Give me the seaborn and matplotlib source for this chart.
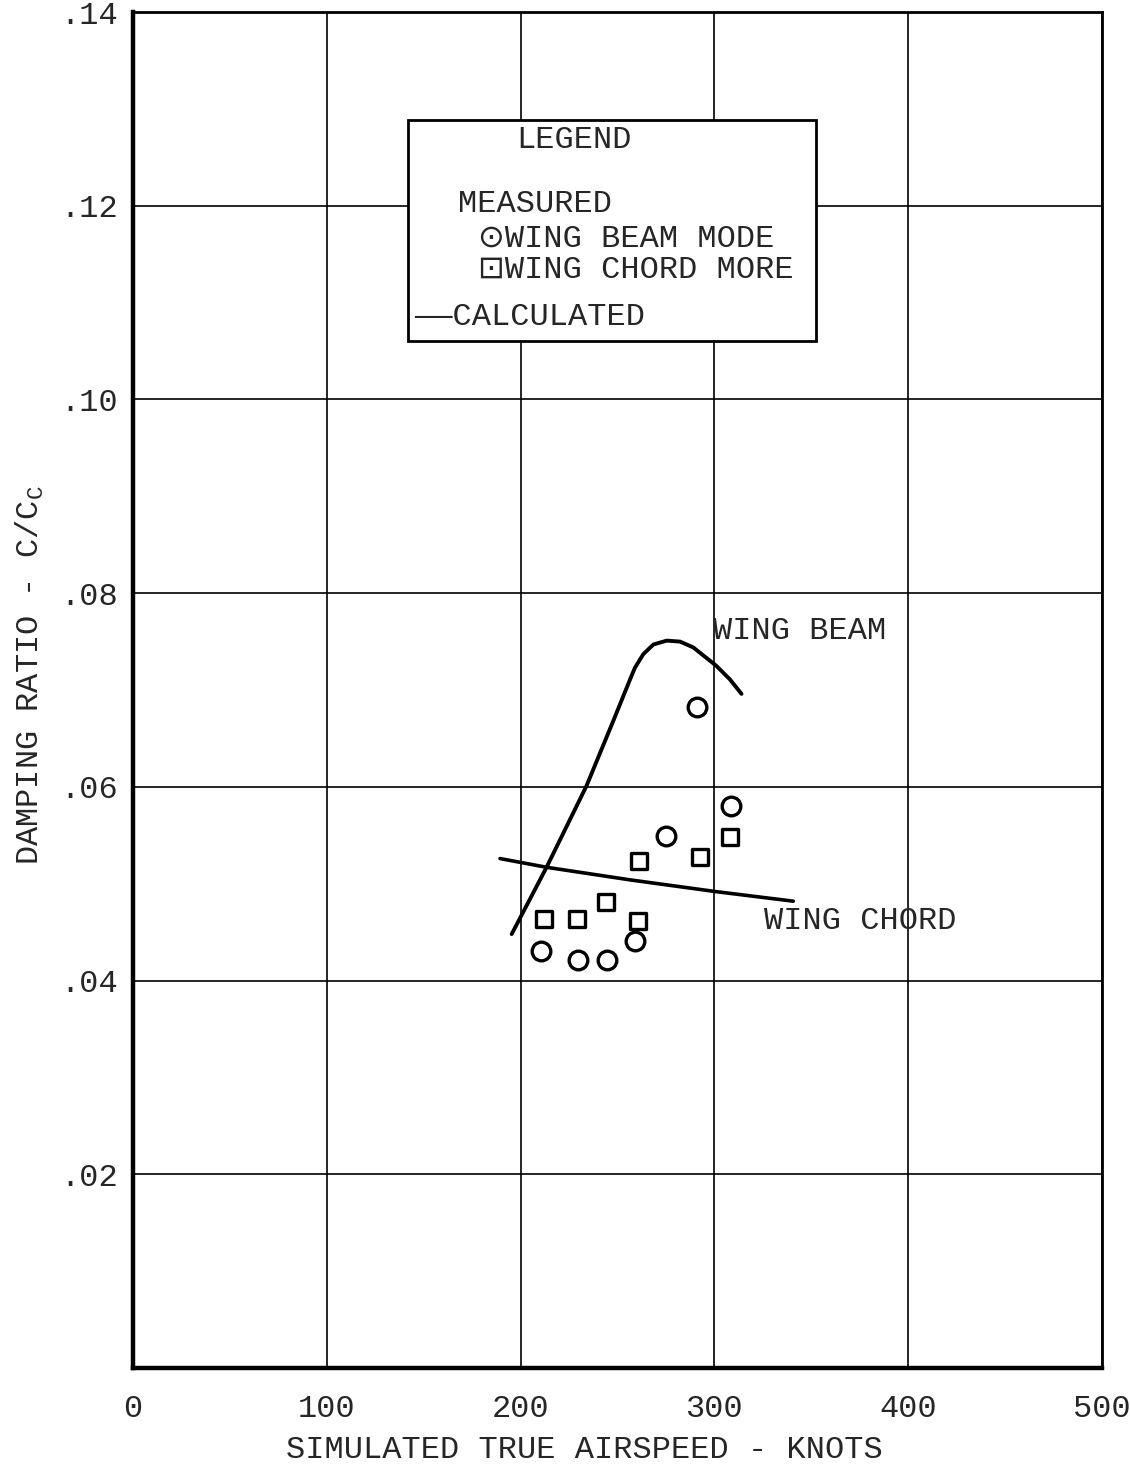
import numpy as np
import pandas as pd
import matplotlib
matplotlib.use("Agg")
import matplotlib.pyplot as plt
from matplotlib.patches import Rectangle
import seaborn as sns

# measured points
beam_speed = [210.5, 229.8, 244.6, 259.2, 275.0, 291.2, 308.4]
beam_damp = [0.0431, 0.0421, 0.0421, 0.0441, 0.0549, 0.0682, 0.0580]
chord_speed = [212.2, 228.9, 243.9, 260.8, 261.3, 292.6, 308.0]
chord_damp = [0.0464, 0.0464, 0.0481, 0.0462, 0.0524, 0.0528, 0.0548]

# calculated curves
beam_calc_speed = [195.4, 213.4, 234.0, 247.8, 256.5, 259.0, 263.3, 268.5, 275.4,
                   282.3, 289.1, 296.0, 301.0, 308.0, 314.0]
beam_calc_damp = [0.0448, 0.0517, 0.0601, 0.0668, 0.0711, 0.0723, 0.0737, 0.0747, 0.0751,
                  0.0750, 0.0744, 0.0733, 0.0725, 0.0711, 0.0696]
chord_calc_speed = [189.4, 213.4, 256.5, 300.3, 340.7]
chord_calc_damp = [0.0526, 0.0517, 0.0504, 0.0492, 0.0482]

x_ticks = [0, 100, 200, 300, 400, 500]
y_ticks = [0.0, 0.02, 0.04, 0.06, 0.08, 0.10, 0.12, 0.14]
y_ticklabels = ["", ".02", ".04", ".06", ".08", ".10", ".12", ".14"]

sns.set_style("white")
plt.rcParams["font.family"] = ["Liberation Mono", "DejaVu Sans"]
plt.rcParams["mathtext.fontset"] = "custom"
plt.rcParams["mathtext.rm"] = "Liberation Mono"

fig = plt.figure(figsize=(11.3, 14.68), dpi=100)
ax = fig.add_axes([0.1177, 0.0681, 0.8575, 0.9237])

beam_df = pd.DataFrame({"speed": beam_speed, "damp": beam_damp})
chord_df = pd.DataFrame({"speed": chord_speed, "damp": chord_damp})
beam_calc = pd.DataFrame({"speed": beam_calc_speed, "damp": beam_calc_damp})
chord_calc = pd.DataFrame({"speed": chord_calc_speed, "damp": chord_calc_damp})

sns.lineplot(data=beam_calc, x="speed", y="damp", sort=False, color="black", lw=2.8, ax=ax)
sns.lineplot(data=chord_calc, x="speed", y="damp", sort=False, color="black", lw=2.6, ax=ax)
sns.scatterplot(data=beam_df, x="speed", y="damp", marker="o", s=180, facecolor="white",
                edgecolor="black", linewidth=2.4, ax=ax, zorder=5)
sns.scatterplot(data=chord_df, x="speed", y="damp", marker="s", s=120, facecolor="white",
                edgecolor="black", linewidth=2.4, ax=ax, zorder=5)

ax.set_xlim(0, 500)
ax.set_ylim(0, 0.14)
ax.set_xticks(x_ticks)
ax.set_xticklabels([str(v) for v in x_ticks])
ax.set_yticks(y_ticks)
ax.set_yticklabels(y_ticklabels)
ax.tick_params(axis="both", length=0, labelsize=23)
ax.tick_params(axis="y", pad=11)
ax.tick_params(axis="x", pad=19)
ax.grid(True, color="black", lw=1.2)
ax.set_axisbelow(True)
for side in ["top", "right"]:
    ax.spines[side].set_linewidth(2)
    ax.spines[side].set_color("black")
for side in ["left", "bottom"]:
    ax.spines[side].set_linewidth(3.2)
    ax.spines[side].set_color("black")

ax.set_xlabel("SIMULATED TRUE AIRSPEED - KNOTS", fontsize=23, va="center")
ax.xaxis.set_label_coords(0.466, -0.0605)
ax.set_ylabel(r"DAMPING RATIO - C/C$_{\mathregular{C}}$", fontsize=23, va="center")
ax.yaxis.set_label_coords(-0.106, 0.511)

# legend box
ax.add_patch(Rectangle((141.9, 0.106), 210.5, 0.0229, facecolor="white",
                       edgecolor="black", lw=2, zorder=6))
ax.text(197.6, 0.1268, "LEGEND", fontsize=23, va="center", zorder=7)
ax.text(167.7, 0.1202, "MEASURED", fontsize=23, va="center", zorder=7)
ax.text(178.0, 0.1166, "\u2299WING BEAM MODE", fontsize=23, va="center", zorder=7)
ax.text(178.0, 0.1134, "\u22a1WING CHORD MORE", fontsize=23, va="center", zorder=7)
ax.text(145.0, 0.1085, "\u2014\u2014CALCULATED", fontsize=23, va="center", zorder=7)

ax.text(299.3, 0.0761, "WING BEAM", fontsize=23, va="center")
ax.text(325.6, 0.0462, "WING CHORD", fontsize=23, va="center")

fig.savefig("out.png", dpi=100, facecolor="white")
